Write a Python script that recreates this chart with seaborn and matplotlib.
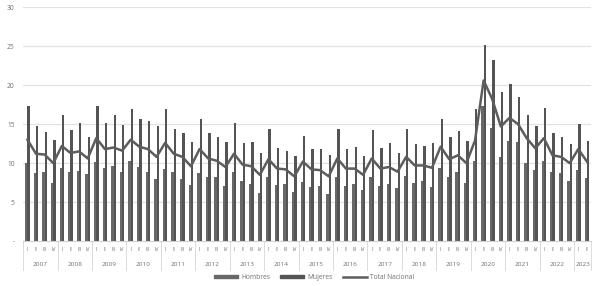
import matplotlib
matplotlib.use('Agg')
import matplotlib.pyplot as plt
import matplotlib.transforms as mtransforms
from matplotlib.lines import Line2D
from matplotlib.patches import Patch
import numpy as np
import pandas as pd
import seaborn as sns

years = list(range(2007, 2024))
quarter_names = ['I', 'II', 'III', 'IV']

hombres = [10.0, 8.7, 8.8, 7.5, 9.4, 8.8, 9.0, 8.6, 10.2, 9.4, 9.6, 8.8,
           10.3, 9.5, 8.8, 7.9, 9.3, 8.8, 8.0, 7.2, 8.7, 8.2, 8.2, 7.1,
           8.9, 7.7, 7.3, 6.2, 8.2, 7.2, 7.3, 6.3, 7.6, 7.0, 7.1, 6.0,
           8.2, 7.1, 7.3, 6.5, 8.2, 7.1, 7.3, 6.8, 8.4, 7.5, 7.7, 7.0,
           9.4, 8.2, 8.8, 7.5, 10.3, 17.3, 14.5, 10.8, 12.9, 12.7, 10.0, 9.1,
           10.3, 8.8, 8.7, 7.7, 9.1, 8.1]
mujeres = [17.3, 14.7, 14.0, 13.0, 16.2, 14.3, 15.1, 13.4, 17.3, 15.1, 16.2, 14.9,
           16.9, 15.6, 15.4, 14.7, 17.0, 14.4, 13.9, 12.7, 15.7, 13.8, 13.4, 12.7,
           15.1, 12.6, 12.7, 11.3, 14.4, 11.9, 11.5, 10.9, 13.5, 11.8, 11.8, 11.1,
           14.4, 11.8, 12.1, 10.9, 14.3, 12.0, 12.6, 11.3, 14.4, 12.4, 12.2, 12.6,
           15.6, 13.4, 14.1, 12.9, 16.9, 25.2, 23.2, 19.1, 20.1, 18.5, 16.2, 14.8,
           17.1, 13.9, 13.4, 12.4, 15.0, 12.9]
total = [13.0, 11.2, 11.1, 10.0, 12.2, 11.3, 11.5, 10.6, 13.2, 11.8, 12.0, 11.6,
         13.0, 12.1, 11.8, 10.8, 12.6, 11.2, 10.8, 9.6, 11.8, 10.6, 10.3, 9.5,
         11.2, 9.8, 9.6, 8.5, 10.5, 9.3, 9.2, 8.3, 10.2, 9.2, 9.1, 8.3,
         10.6, 9.3, 9.3, 8.5, 10.6, 9.3, 9.5, 8.9, 10.8, 9.7, 9.7, 9.4,
         12.1, 10.5, 11.0, 10.0, 12.9, 20.6, 18.2, 14.7, 15.8, 15.0, 13.2, 11.9,
         13.2, 11.0, 10.8, 10.0, 11.8, 10.2]

n = len(hombres)
periodos = [f'{y}-{q}' for y in years for q in quarter_names][:n]
trimestres = [q for y in years for q in quarter_names][:n]

df = pd.DataFrame({'periodo': periodos, 'Hombres': hombres, 'Mujeres': mujeres})
df_long = df.melt(id_vars='periodo', var_name='sexo', value_name='tasa')

c_h = '#686868'
c_m = '#545454'
c_t = '#5c5c5c'
txt = '#707070'

plt.rcParams['font.family'] = ['Open Sans', 'DejaVu Sans']
fig = plt.figure(figsize=(5.93, 2.86), dpi=100)
ax = fig.add_axes([0.039, 0.157, 0.958, 0.818])

sns.barplot(data=df_long, x='periodo', y='tasa', hue='sexo', order=periodos,
            palette={'Hombres': c_h, 'Mujeres': c_m}, width=0.54, saturation=1,
            linewidth=0, legend=False, ax=ax)
sns.lineplot(x=np.arange(n), y=total, color=c_t, linewidth=1.8, ax=ax)

ax.set_xlim(-0.5, n - 0.5)
ax.set_ylim(0, 30)
ax.set_yticks(range(0, 31, 5))
ax.set_yticklabels(['-'] + [str(v) for v in range(5, 31, 5)], fontsize=4.8, color=txt)
ax.tick_params(axis='y', length=0, pad=6)
ax.set_xticks([])
ax.set_xlabel('')
ax.set_ylabel('')
for s in ['top', 'right', 'left']:
    ax.spines[s].set_visible(False)
ax.spines['bottom'].set_color('#d0d0d0')
ax.spines['bottom'].set_linewidth(0.8)
ax.yaxis.grid(True, color='#e2e2e2', linewidth=0.9)
ax.set_axisbelow(True)

trans = mtransforms.blended_transform_factory(ax.transData, ax.transAxes)
for i, q in enumerate(trimestres):
    ax.text(i, -0.038, q, transform=trans, ha='center', va='center',
            fontsize=3.6, color=txt)

for k, y in enumerate(years):
    start = 4 * k
    end = min(4 * k + 4, n)
    ax.text((start + end - 1) / 2, -0.098, str(y), transform=trans, ha='center',
            va='center', fontsize=4.6, color=txt)
    ax.plot([start - 0.5, start - 0.5], [0, -0.125], transform=trans,
            color='#d6d6d6', linewidth=0.6, clip_on=False)
ax.plot([n - 0.5, n - 0.5], [0, -0.125], transform=trans,
        color='#d6d6d6', linewidth=0.6, clip_on=False)

handles = [Patch(color=c_h, label='Hombres'),
           Patch(color=c_m, label='Mujeres'),
           Line2D([0], [0], color=c_t, linewidth=1.8, label='Total Nacional')]
leg = fig.legend(handles=handles, loc='center', bbox_to_anchor=(0.53, 0.03), ncol=3,
                 frameon=False, fontsize=4.8, handlelength=3.6, handleheight=0.45,
                 columnspacing=1.5, handletextpad=0.5)
for t in leg.get_texts():
    t.set_color(txt)

fig.savefig('out.png', dpi=100)
